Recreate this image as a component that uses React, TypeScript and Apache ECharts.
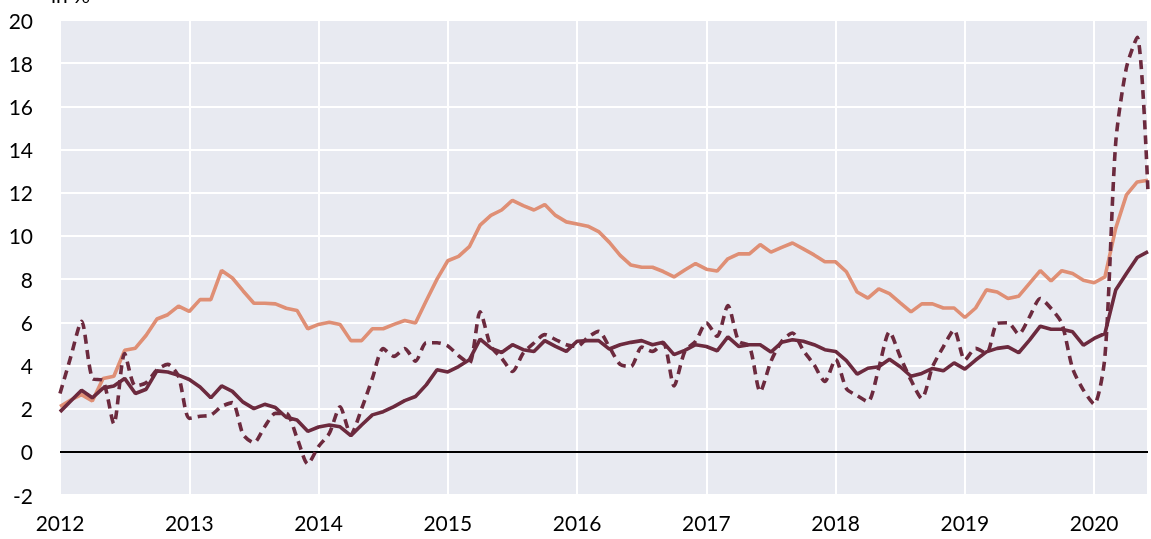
import React, { useEffect, useRef } from "react";
import * as echarts from "echarts";

const startYear = 2012;
const yearTicks = ["2012", "2013", "2014", "2015", "2016", "2017", "2018", "2019", "2020"];

const orangeSeries = [
  2.1, 2.4, 2.65, 2.35, 3.4, 3.5, 4.7, 4.8, 5.4, 6.15, 6.35, 6.75,
  6.5, 7.05, 7.05, 8.4, 8.05, 7.45, 6.88, 6.88, 6.85, 6.65, 6.55, 5.7,
  5.9, 6.0, 5.9, 5.15, 5.15, 5.7, 5.7, 5.9, 6.08, 5.97, 7.0, 8.0,
  8.85, 9.05, 9.5, 10.5, 10.95, 11.2, 11.65, 11.4, 11.2, 11.45, 10.95, 10.65,
  10.55, 10.45, 10.2, 9.7, 9.1, 8.65, 8.55, 8.55, 8.35, 8.1, 8.42, 8.72,
  8.46, 8.37, 8.94, 9.17, 9.17, 9.6, 9.25, 9.47, 9.67, 9.4, 9.12, 8.8,
  8.8, 8.34, 7.4, 7.12, 7.55, 7.33, 6.9, 6.48, 6.85, 6.85, 6.66, 6.66,
  6.22, 6.66, 7.5, 7.4, 7.1, 7.21, 7.8, 8.39, 7.91, 8.39, 8.26, 7.95,
  7.83, 8.1, 10.35, 11.9, 12.5, 12.58,
];

const solidSeries = [
  1.85, 2.35, 2.85, 2.5, 2.95, 3.05, 3.4, 2.7, 2.9, 3.75, 3.7, 3.55,
  3.35, 3.0, 2.5, 3.05, 2.8, 2.3, 2.0, 2.2, 2.05, 1.6, 1.47, 0.95,
  1.15, 1.24, 1.16, 0.75, 1.24, 1.71, 1.86, 2.09, 2.37, 2.56, 3.1, 3.8,
  3.7, 3.95, 4.26, 5.22, 4.8, 4.6, 4.96, 4.73, 4.65, 5.15, 4.88, 4.65,
  5.12, 5.15, 5.15, 4.76, 4.96, 5.07, 5.15, 4.96, 5.07, 4.5, 4.7, 4.96,
  4.88, 4.68, 5.32, 4.88, 4.96, 4.96, 4.62, 5.07, 5.19, 5.12, 4.96, 4.73,
  4.65, 4.22, 3.6, 3.87, 3.94, 4.29, 3.94, 3.5, 3.63, 3.86, 3.75, 4.12,
  3.83, 4.25, 4.63, 4.79, 4.86, 4.59, 5.17, 5.82, 5.68, 5.68, 5.56, 4.94,
  5.25, 5.48, 7.49, 8.26, 9.0, 9.27,
];

const dashedSeries = [
  2.7, 4.4, 6.05, 3.4, 3.3, 1.3, 4.55, 3.05, 3.2, 3.8, 4.05, 3.5,
  1.55, 1.65, 1.7, 2.1, 2.28, 0.8, 0.42, 1.16, 1.78, 1.78, 0.65, -0.56,
  0.25, 0.85, 2.08, 0.8, 2.0, 3.4, 4.78, 4.42, 4.78, 4.2, 5.05, 5.05,
  4.9, 4.45, 4.1, 6.48, 4.88, 4.34, 3.72, 4.57, 5.04, 5.43, 5.2, 4.96,
  4.88, 5.3, 5.58, 4.85, 4.05, 3.95, 4.85, 4.65, 5.04, 3.05, 4.65, 5.12,
  5.97, 5.35, 6.78, 5.12, 4.9, 2.79, 4.19, 5.12, 5.5, 4.7, 4.03, 3.26,
  4.29, 2.93, 2.6, 2.32, 3.86, 5.56, 4.4, 3.32, 2.47, 3.94, 4.86, 5.64,
  4.25, 4.79, 4.56, 5.95, 5.98, 5.45, 6.25, 7.1, 6.64, 5.95, 3.86, 2.86,
  2.21, 4.4, 14.3, 17.8, 19.2, 12.0,
];

const toPairs = (arr: number[]) => arr.map((v, i) => [i, v]);

export default function App() {
  const ref = useRef<HTMLDivElement>(null);
  useEffect(() => {
    if (!ref.current) return;
    const chart = echarts.init(ref.current, null, { renderer: "svg" });
    const font = "Lato, 'Open Sans', sans-serif";
    chart.setOption({
      animation: false,
      grid: {
        left: 60,
        right: 0,
        top: 20,
        bottom: 44,
        show: true,
        backgroundColor: "#E8EAF1",
        borderWidth: 0,
      },
      graphic: [
        {
          type: "text",
          left: 51,
          top: -16,
          style: { text: "in %", fontSize: 21, fontFamily: font, fill: "#000" },
        },
      ],
      xAxis: {
        type: "value",
        min: 0,
        max: orangeSeries.length - 1,
        interval: 12,
        axisLine: { show: false },
        axisTick: { show: false },
        axisLabel: {
          color: "#000",
          fontSize: 21,
          fontFamily: font,
          margin: 17,
          formatter: (v: number) => (v % 12 === 0 ? yearTicks[v / 12] ?? String(startYear + v / 12) : ""),
        },
        splitLine: { show: true, lineStyle: { color: "#ffffff", width: 2 } },
      },
      yAxis: {
        type: "value",
        min: -2,
        max: 20,
        interval: 2,
        axisLine: { show: false },
        axisTick: { show: false },
        axisLabel: { color: "#000", fontSize: 21, fontFamily: font, margin: 27 },
        splitLine: { show: true, lineStyle: { color: "#ffffff", width: 2 } },
      },
      series: [
        {
          type: "line",
          data: toPairs(orangeSeries),
          symbol: "none",
          lineStyle: { color: "#DF8F75", width: 3.6 },
          z: 3,
          markLine: {
            silent: true,
            symbol: "none",
            label: { show: false },
            lineStyle: { color: "#000", width: 2, type: "solid" },
            data: [{ yAxis: 0 }],
            z: 2,
          },
        },
        {
          type: "line",
          data: toPairs(solidSeries),
          symbol: "none",
          lineStyle: { color: "#6C2A3E", width: 3.6 },
          z: 4,
        },
        {
          type: "line",
          data: toPairs(dashedSeries),
          symbol: "none",
          smooth: 0.25,
          lineStyle: { color: "#6C2A3E", width: 3.6, type: [9, 6] },
          z: 5,
        },
      ],
    });
    return () => chart.dispose();
  }, []);
  return (
    <div
      ref={ref}
      style={{ position: "fixed", left: 0, top: 0, width: 1151, height: 539 }}
    />
  );
}
